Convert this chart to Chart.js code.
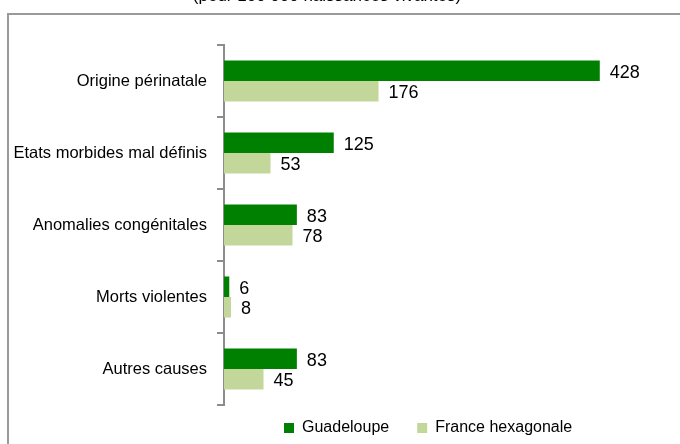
<!DOCTYPE html>
<html lang="fr">
<head>
<meta charset="UTF-8" />
<title>Causes de mortalité infantile</title>
<script src="https://cdn.jsdelivr.net/npm/chart.js"></script>
<style>
  html, body { margin: 0; padding: 0; background: #fff; overflow: hidden; }
  .wrap { position: relative; width: 680px; height: 444px; }
  .cadre {
    position: absolute; left: 7px; top: 13px; width: 700px; height: 500px;
    border-top: 2px solid #9a9a9a; border-left: 2px solid #9a9a9a;
  }
  canvas { position: absolute; left: 0; top: 0; }
</style>
</head>
<body>
<div class="wrap">
  <div class="cadre"></div>
  <canvas id="graph" width="680" height="444"></canvas>
</div>

<script>
  // données (pour 100 000 naissances vivantes)
  const causes = ['Origine périnatale', 'Etats morbides mal définis', 'Anomalies congénitales', 'Morts violentes', 'Autres causes'];
  const guadeloupe = [428, 125, 83, 6, 83];
  const franceHexa = [176, 53, 78, 8, 45];
  const titre = '(pour 100 000 naissances vivantes)';

  const police = "'Liberation Sans', Arial, sans-serif";

  // étiquettes de valeur à droite des barres
  const valeurs = {
    id: 'valeurs',
    afterDatasetsDraw(chart) {
      const ctx = chart.ctx;
      ctx.save();
      ctx.font = '18px ' + police;
      ctx.fillStyle = '#000';
      ctx.textBaseline = 'middle';
      ctx.textAlign = 'left';
      chart.data.datasets.forEach((ds, i) => {
        chart.getDatasetMeta(i).data.forEach((bar, j) => {
          ctx.fillText(ds.data[j], bar.x + 10, bar.y + 2);
        });
      });
      ctx.restore();
    }
  };

  // titre coupé en haut de l'image
  const titreCoupe = {
    id: 'titreCoupe',
    afterDraw(chart) {
      const ctx = chart.ctx;
      ctx.save();
      ctx.font = '17px ' + police;
      ctx.fillStyle = '#000';
      ctx.textAlign = 'center';
      ctx.textBaseline = 'alphabetic';
      ctx.fillText(titre, 327, 1);
      ctx.restore();
    }
  };

  // place la légende comme dans l'original (décalée, écart large)
  const placeLegende = {
    id: 'placeLegende',
    beforeDraw(chart) {
      const lg = chart.legend;
      lg.left = 284 - 28;
      lg.right = 680;
      lg.top = 392;
      lg.bottom = 444;
    }
  };

  new Chart(document.getElementById('graph'), {
    type: 'bar',
    data: {
      labels: causes,
      datasets: [
        { label: 'Guadeloupe', data: guadeloupe, backgroundColor: '#008000' },
        { label: 'France hexagonale', data: franceHexa, backgroundColor: '#c4d79b' }
      ]
    },
    options: {
      indexAxis: 'y',
      responsive: false,
      animation: false,
      layout: { padding: { top: 45, right: 17, left: 0, bottom: 0 } },
      datasets: { bar: { barPercentage: 1, categoryPercentage: 0.57 } },
      scales: {
        x: { display: false, min: 0, max: 500 },
        y: {
          afterFit(scale) { scale.width = 224; },
          border: { color: '#8c8c8c', width: 2 },
          grid: { drawOnChartArea: false, tickLength: 7, color: '#8c8c8c', lineWidth: 2 },
          ticks: { color: '#000', font: { family: police, size: 16.5 }, padding: 10 }
        }
      },
      plugins: {
        tooltip: { enabled: false },
        legend: {
          position: 'bottom',
          align: 'start',
          fullSize: false,
          maxHeight: 39,
          labels: {
            color: '#000',
            boxWidth: 10, boxHeight: 10,
            padding: 28,
            font: { family: police, size: 16 }
          }
        }
      }
    },
    plugins: [valeurs, titreCoupe, placeLegende]
  });
</script>
</body>
</html>
